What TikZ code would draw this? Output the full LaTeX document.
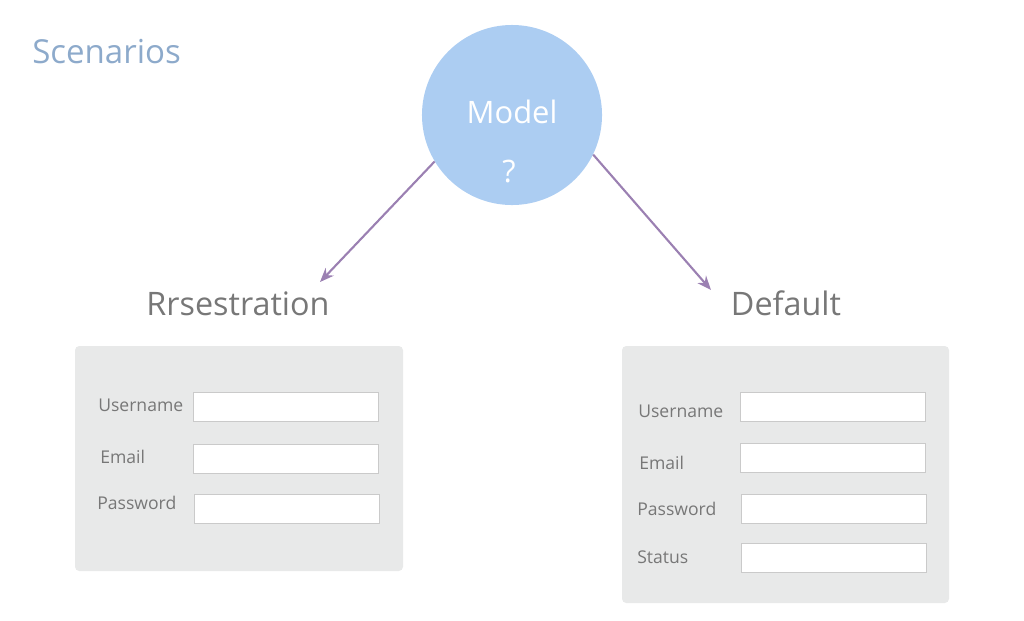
\documentclass[tikz,border=0pt]{standalone}
\usepackage{fontspec}
\setmainfont{Open Sans}
\usepackage{xcolor}
\usetikzlibrary{arrows.meta, positioning}

\definecolor{scenblue}{HTML}{8DAACB}
\definecolor{modelblue}{HTML}{ACCDF2}
\definecolor{arrpurple}{HTML}{9B80B2}
\definecolor{txtgray}{HTML}{777777}
\definecolor{panelgray}{HTML}{E8E9E9}
\definecolor{fieldline}{HTML}{CACACA}

\begin{document}
\begin{tikzpicture}[
  x=0.025cm, y=-0.025cm,
  circ/.style={circle, fill=modelblue, minimum size=4.5cm, inner sep=0},
  modeltxt/.style={text=white, anchor=base, inner sep=0, font=\fontsize{22}{26}\selectfont},
  heading/.style={text=txtgray, anchor=base, inner sep=0, font=\fontsize{23}{27}\selectfont},
  panel/.style={fill=panelgray, rounded corners=3pt},
  field/.style={draw=fieldline, line width=0.6pt, fill=white, anchor=north west, inner sep=0, minimum width=4.63cm, minimum height=0.72cm},
  lbl/.style={text=txtgray, anchor=base west, inner sep=0, font=\fontsize{12.5}{15}\selectfont},
  arr/.style={-{Stealth[length=10pt, width=8pt]}, draw=arrpurple, line width=1.5pt}
]
  \useasboundingbox (0,0) rectangle (1024,620);

  \node[anchor=base west, inner sep=0, text=scenblue, font=\fontsize{23.5}{28}\selectfont] (title) at (32,63) {Scenarios};

  % model
  \node[circ] (model) at (512,115) {};
  \node[modeltxt] (modelname) at (512,123) {Model};
  \node[modeltxt] (modelq) at (509,182) {?};

  % headings
  \node[heading] (reg) at (238,315) {Rrsestration};
  \node[heading] (def) at (786,315) {Default};
  \coordinate (regtip) at (320,282);
  \coordinate (deftip) at (711,290);

  \draw[arr] (model.211) -- (regtip);
  \draw[arr] (model.-26) -- (deftip);

  % registration form
  \path[panel] (75,346) rectangle (403,571);
  \node[lbl] (regusr) at (98,411) {Username};
  \node[field] (regusrf) at (193,392) {};
  \node[lbl] (regmail) at (100,463) {Email};
  \node[field] (regmailf) at (193,444) {};
  \node[lbl] (regpw) at (97,509) {Password};
  \node[field] (regpwf) at (194,494) {};

  % default form
  \path[panel] (622,346) rectangle (949,603);
  \node[lbl] (defusr) at (638,417) {Username};
  \node[field] (defusrf) at (740,392) {};
  \node[lbl] (defmail) at (639,469) {Email};
  \node[field] (defmailf) at (740,443) {};
  \node[lbl] (defpw) at (637,515) {Password};
  \node[field] (defpwf) at (741,494) {};
  \node[lbl] (defstat) at (637,563) {Status};
  \node[field] (defstatf) at (741,543) {};
\end{tikzpicture}
\end{document}
